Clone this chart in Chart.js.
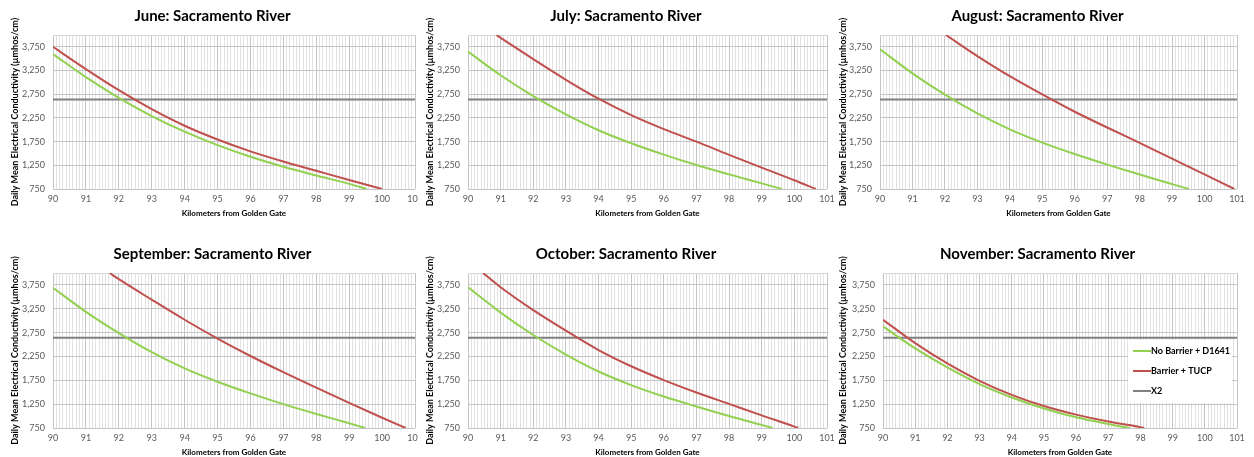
<!DOCTYPE html>
<html>
<head>
<meta charset="utf-8">
<script src="https://cdn.jsdelivr.net/npm/chart.js@4.4.1/dist/chart.umd.min.js"></script>
<style>
  body { margin: 0; background: #fff; }
  #wrap { position: relative; width: 1254px; height: 457px; overflow: hidden; }
  #wrap canvas { position: absolute; }
</style>
</head>
<body>
<div id="wrap"></div>
<script>
// tick labels
const kmTicks = [90, 91, 92, 93, 94, 95, 96, 97, 98, 99, 100, 101];
const ecTicks = [750, 1250, 1750, 2250, 2750, 3250, 3750];

// X2 reference line
const x2Km = [90, 101];
const x2EC = [2640, 2640];

// June
const juneNoBarrierKm = [90, 91, 92, 93, 94, 95, 96, 97, 98, 99, 99.53];
const juneNoBarrierEC = [3600, 3110, 2675, 2290, 1960, 1675, 1430, 1220, 1035, 858, 750];
const juneBarrierKm = [90, 91, 92, 93, 94, 95, 96, 97, 98, 99, 100];
const juneBarrierEC = [3750, 3280, 2835, 2435, 2085, 1795, 1545, 1330, 1135, 940, 750];

// July
const julyNoBarrierKm = [90, 91, 92, 93, 94, 95, 96, 97, 98, 99, 99.62];
const julyNoBarrierEC = [3650, 3150, 2710, 2325, 1990, 1715, 1475, 1255, 1058, 868, 750];
const julyBarrierKm = [90.87, 91, 92, 93, 94, 95, 96, 97, 98, 99, 100, 100.66];
const julyBarrierEC = [4000, 3940, 3490, 3055, 2655, 2310, 2015, 1750, 1470, 1200, 935, 750];

// August
const augustNoBarrierKm = [90, 91, 92, 93, 94, 95, 96, 97, 98, 99, 99.52];
const augustNoBarrierEC = [3700, 3190, 2740, 2345, 2010, 1730, 1488, 1265, 1055, 853, 750];
const augustBarrierKm = [92.03, 93, 94, 95, 96, 97, 98, 99, 100, 100.92];
const augustBarrierEC = [4000, 3555, 3130, 2745, 2380, 2048, 1722, 1390, 1060, 750];

// September
const septemberNoBarrierKm = [90, 91, 92, 93, 94, 95, 96, 97, 98, 99, 99.48];
const septemberNoBarrierEC = [3690, 3185, 2740, 2340, 2000, 1720, 1475, 1250, 1045, 850, 750];
const septemberBarrierKm = [91.72, 92, 93, 94, 95, 96, 97, 98, 99, 100, 100.72];
const septemberBarrierEC = [4000, 3870, 3440, 3020, 2625, 2260, 1920, 1595, 1275, 965, 750];

// October
const octoberNoBarrierKm = [90, 91, 92, 93, 94, 95, 96, 97, 98, 99, 99.33];
const octoberNoBarrierEC = [3700, 3170, 2700, 2290, 1935, 1650, 1410, 1200, 1000, 815, 750];
const octoberBarrierKm = [90.46, 91, 92, 93, 94, 95, 96, 97, 98, 99, 100, 100.12];
const octoberBarrierEC = [4000, 3700, 3220, 2790, 2385, 2045, 1755, 1495, 1255, 1015, 780, 750];

// November
const novemberNoBarrierKm = [90, 91, 92, 93, 94, 95, 96, 97, 97.67];
const novemberNoBarrierEC = [2880, 2420, 2020, 1670, 1390, 1160, 975, 835, 750];
const novemberBarrierKm = [90, 91, 92, 93, 94, 95, 96, 97, 98, 98.12];
const novemberBarrierEC = [3020, 2530, 2105, 1740, 1445, 1210, 1030, 885, 768, 750];

const seriesLabels = ['No Barrier + D1641', 'Barrier + TUCP', 'X2'];
const seriesColors = ['#92d050', '#c0504d', '#808080'];

const panels = [
  { month: 'June', nb: [juneNoBarrierKm, juneNoBarrierEC], b: [juneBarrierKm, juneBarrierEC],
    box: { left: 0, top: 0, w: 418, h: 228, padL: 10, padR: 3, padT: 7, padB: 10, yW: 43 } },
  { month: 'July', nb: [julyNoBarrierKm, julyNoBarrierEC], b: [julyBarrierKm, julyBarrierEC],
    box: { left: 418, top: 0, w: 418, h: 228, padL: 7, padR: 9, padT: 7, padB: 10, yW: 43 } },
  { month: 'August', nb: [augustNoBarrierKm, augustNoBarrierEC], b: [augustBarrierKm, augustBarrierEC],
    box: { left: 836, top: 0, w: 418, h: 228, padL: 2, padR: 17, padT: 7, padB: 10, yW: 42 } },
  { month: 'September', nb: [septemberNoBarrierKm, septemberNoBarrierEC], b: [septemberBarrierKm, septemberBarrierEC],
    box: { left: 0, top: 228, w: 418, h: 229, padL: 10, padR: 3, padT: 17, padB: 0, yW: 43 } },
  { month: 'October', nb: [octoberNoBarrierKm, octoberNoBarrierEC], b: [octoberBarrierKm, octoberBarrierEC],
    box: { left: 418, top: 228, w: 418, h: 229, padL: 7, padR: 9, padT: 17, padB: 0, yW: 43 } },
  { month: 'November', nb: [novemberNoBarrierKm, novemberNoBarrierEC], b: [novemberBarrierKm, novemberBarrierEC],
    box: { left: 836, top: 228, w: 418, h: 229, padL: 2, padR: 17, padT: 17, padB: 0, yW: 45 }, legend: true },
];

const toPoints = (xs, ys) => xs.map((x, i) => ({ x: x, y: ys[i] }));

// legend drawn inside the plot area (November panel only)
const insideLegend = {
  id: 'insideLegend',
  afterDraw(chart, args, opts) {
    if (!opts.show) return;
    const { ctx, chartArea } = chart;
    const w = 104, h = 63;
    const x = chartArea.right - 5 - w;
    const y = chartArea.top + 67;
    ctx.save();
    ctx.fillStyle = '#ffffff';
    ctx.fillRect(x, y, w, h);
    ctx.font = 'bold 9px Lato';
    ctx.textBaseline = 'middle';
    chart.data.datasets.forEach((ds, i) => {
      const ly = Math.round(y + 11 + i * 20);
      ctx.strokeStyle = ds.borderColor;
      ctx.lineWidth = 2;
      ctx.beginPath();
      ctx.moveTo(x + 5, ly);
      ctx.lineTo(x + 23, ly);
      ctx.stroke();
      ctx.fillStyle = '#000000';
      ctx.fillText(ds.label, x + 23, ly);
    });
    ctx.restore();
  }
};

function makeChart(p) {
  const bx = p.box;
  const canvas = document.createElement('canvas');
  canvas.width = bx.w;
  canvas.height = bx.h;
  canvas.style.left = bx.left + 'px';
  canvas.style.top = bx.top + 'px';
  document.getElementById('wrap').appendChild(canvas);

  const lineDs = (label, color, pts) => ({
    label: label,
    data: pts,
    borderColor: color,
    backgroundColor: color,
    borderWidth: 2,
    pointRadius: 0,
    fill: false,
    tension: 0.4,
    cubicInterpolationMode: 'monotone',
  });

  new Chart(canvas, {
    type: 'line',
    data: {
      datasets: [
        lineDs(seriesLabels[0], seriesColors[0], toPoints(p.nb[0], p.nb[1])),
        lineDs(seriesLabels[1], seriesColors[1], toPoints(p.b[0], p.b[1])),
        lineDs(seriesLabels[2], seriesColors[2], toPoints(x2Km, x2EC)),
      ],
    },
    plugins: [insideLegend],
    options: {
      responsive: false,
      animation: false,
      events: [],
      layout: { padding: { left: bx.padL, right: bx.padR, top: bx.padT, bottom: bx.padB } },
      plugins: {
        legend: { display: false },
        tooltip: { enabled: false },
        insideLegend: { show: !!p.legend },
        title: {
          display: true,
          text: p.month + ': Sacramento River',
          color: '#000000',
          font: { family: 'Lato', size: 15, weight: 'bold' },
          padding: { top: 0, bottom: 10 },
        },
      },
      scales: {
        x: {
          type: 'linear',
          min: kmTicks[0],
          max: kmTicks[kmTicks.length - 1],
          afterBuildTicks: (scale) => {
            const t = [];
            kmTicks.forEach((k, i) => {
              t.push({ value: k });
              if (i < kmTicks.length - 1) {
                for (let j = 1; j < 10; j++) t.push({ value: Math.round((k + j / 10) * 10) / 10 });
              }
            });
            scale.ticks = t;
          },
          afterFit: (scale) => {
            scale.height = 29;
            scale.paddingLeft = 0;
            scale.paddingRight = 0;
          },
          ticks: {
            autoSkip: false,
            maxRotation: 0,
            minRotation: 0,
            padding: 5,
            color: '#595959',
            font: { family: 'Lato', size: 9 },
            callback: (v) => (Number.isInteger(v) ? String(v) : ''),
          },
          grid: {
            drawTicks: false,
            color: (ctx) => (ctx.tick && Number.isInteger(ctx.tick.value) ? '#c4c4c4' : '#e2e2e2'),
          },
          border: { display: false },
          title: {
            display: true,
            text: 'Kilometers from Golden Gate',
            color: '#000000',
            font: { family: 'Lato', size: 8, weight: 'bold' },
            padding: { top: 0, bottom: 0 },
          },
        },
        y: {
          type: 'linear',
          min: 750,
          max: 4000,
          afterBuildTicks: (scale) => {
            scale.ticks = ecTicks.map((v) => ({ value: v })).concat([{ value: 4000 }]);
          },
          afterFit: (scale) => {
            scale.width = bx.yW;
            scale.paddingTop = 0;
            scale.paddingBottom = 0;
          },
          ticks: {
            padding: 8,
            color: '#595959',
            font: { family: 'Lato', size: 9 },
            callback: (v) => (ecTicks.includes(v) ? v.toLocaleString('en-US') : ''),
          },
          grid: {
            drawTicks: false,
            color: (ctx) => (ctx.tick && ctx.tick.value === 4000 ? '#d8d8d8' : '#c4c4c4'),
          },
          border: { display: false },
          title: {
            display: true,
            text: 'Daily Mean Electrical Conductivity (µmhos/cm)',
            color: '#000000',
            font: { family: 'Lato', size: 9, weight: 'bold' },
            padding: { top: 0, bottom: 0 },
          },
        },
      },
    },
  });
}

Promise.all([
  document.fonts.load('bold 15px Lato'),
  document.fonts.load('9px Lato'),
  document.fonts.load('bold 8px Lato'),
]).catch(() => {}).then(() => {
  panels.forEach(makeChart);
});
</script>
</body>
</html>
